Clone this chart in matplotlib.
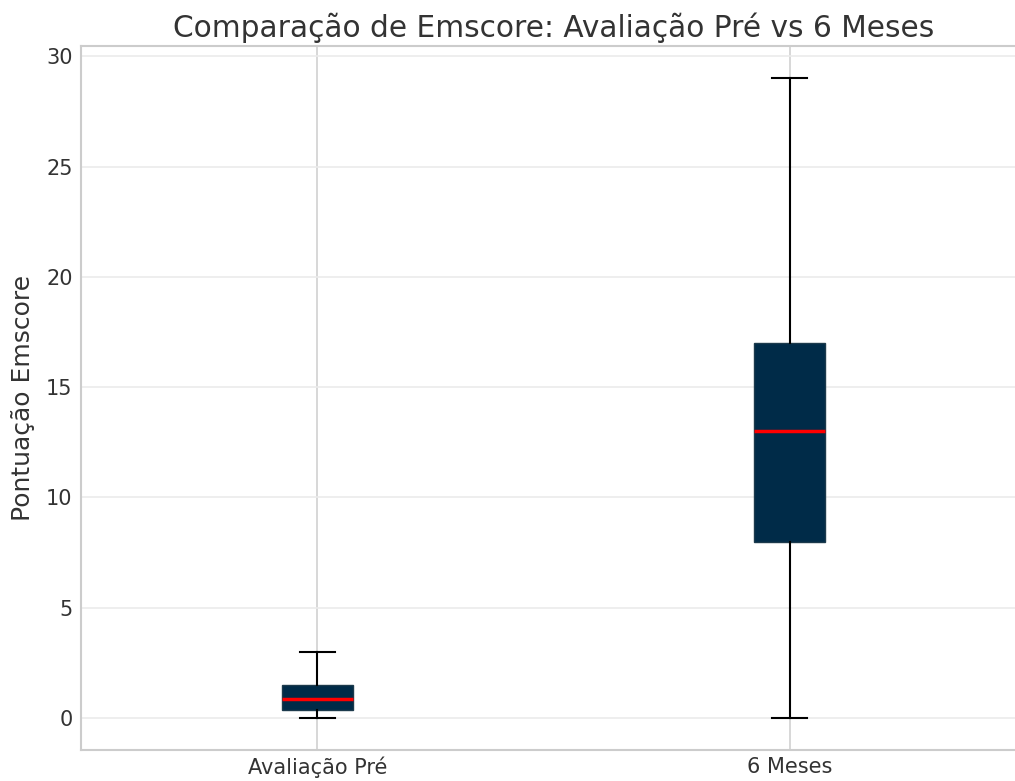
import matplotlib
matplotlib.use("Agg")
import matplotlib.pyplot as plt

# box stats
groups = ["Avaliação Pré", "6 Meses"]
q1 = [0.35, 8.0]
med = [0.85, 13.0]
q3 = [1.5, 17.0]
wlo = [0.0, 0.0]
whi = [3.0, 29.0]

stats = []
for i, g in enumerate(groups):
  stats.append(dict(label=g, q1=q1[i], med=med[i], q3=q3[i],
                    whislo=wlo[i], whishi=whi[i], fliers=[]))

fig = plt.figure(figsize=(10.15, 7.81), dpi=100)
ax = fig.add_axes([0.0798, 0.0397, 0.931, 0.901])

ax.bxp(stats, positions=[1, 2], widths=0.15, patch_artist=True,
       boxprops=dict(facecolor="#002b48", edgecolor="#1c3a4c", linewidth=1),
       medianprops=dict(color="red", linewidth=2.5),
       whiskerprops=dict(color="black", linewidth=1.5),
       capprops=dict(color="black", linewidth=1.5),
       zorder=3)

ax.set_xlim(0.5, 2.5)
ax.set_ylim(-1.45, 30.45)
ax.set_yticks([0, 5, 10, 15, 20, 25, 30])

ax.yaxis.grid(True, color="#ebebeb", linewidth=1.2, zorder=0)
ax.xaxis.grid(True, color="#d4d4d4", linewidth=1.3, zorder=0)
ax.set_axisbelow(True)

for s in ax.spines.values():
  s.set_color("#cccccc")
  s.set_linewidth(1.5)
ax.spines["right"].set_visible(False)

ax.tick_params(length=0, labelsize=15, colors="#333333", pad=6)
ax.tick_params(axis="x", labelsize=15, pad=5)
ax.set_ylabel("Pontuação Emscore", fontsize=18, color="#333333", labelpad=8)
ax.set_title("Comparação de Emscore: Avaliação Pré vs 6 Meses",
             fontsize=21.3, color="#333333", pad=7)

fig.savefig("out.png", dpi=100)
